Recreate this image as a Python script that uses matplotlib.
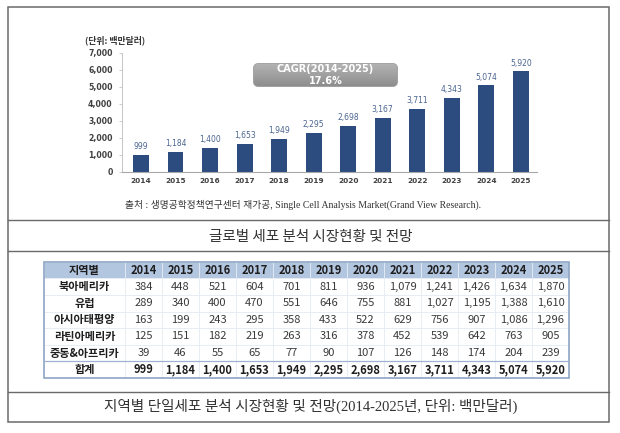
import matplotlib
matplotlib.use('Agg')
import matplotlib.pyplot as plt
import numpy as np
from matplotlib.patches import Rectangle, FancyBboxPatch
from matplotlib.lines import Line2D
from matplotlib.colors import LinearSegmentedColormap

plt.rcParams['font.family'] = ['Noto Sans CJK KR', 'DejaVu Sans']

# ---------------- data ----------------
years = ['2014', '2015', '2016', '2017', '2018', '2019',
         '2020', '2021', '2022', '2023', '2024', '2025']
totals = [999, 1184, 1400, 1653, 1949, 2295, 2698, 3167, 3711, 4343, 5074, 5920]
y_ticks = [0, 1000, 2000, 3000, 4000, 5000, 6000, 7000]

regions = ['북아메리카', '유럽', '아시아태평양', '라틴아메리카', '중동&아프리카']
north_america = [384, 448, 521, 604, 701, 811, 936, 1079, 1241, 1426, 1634, 1870]
europe = [289, 340, 400, 470, 551, 646, 755, 881, 1027, 1195, 1388, 1610]
asia_pacific = [163, 199, 243, 295, 358, 433, 522, 629, 756, 907, 1086, 1296]
latin_america = [125, 151, 182, 219, 263, 316, 378, 452, 539, 642, 763, 905]
middle_east_africa = [39, 46, 55, 65, 77, 90, 107, 126, 148, 174, 204, 239]
total_label = '합계'
region_header = '지역별'

unit_label = '(단위: 백만달러)'
cagr_label = 'CAGR(2014-2025)\n17.6%'
source_label = '출처 : 생명공학정책연구센터 재가공, Single Cell Analysis Market(Grand View Research).'
caption1 = '글로벌 세포 분석 시장현황 및 전망'
caption2 = '지역별 단일세포 분석 시장현황 및 전망(2014-2025년, 단위: 백만달러)'

# ---------------- figure ----------------
W, H = 620, 433
fig = plt.figure(figsize=(W / 100, H / 100), dpi=100)
fig.patch.set_facecolor('white')


def fx(x):
    return x / W


def fy(y):
    return 1 - y / H


# outer frame and separators
frame_col = '#6a6a6a'
fig.add_artist(Rectangle((fx(7.5), fy(422)), (609 - 7.5) / W, (422 - 7) / H,
                         transform=fig.transFigure, fill=False, ec=frame_col, lw=1.1))
for yy in (220, 251, 392):
    fig.add_artist(Line2D([fx(7.5), fx(609)], [fy(yy), fy(yy)],
                          transform=fig.transFigure, color=frame_col, lw=1.0))

# ---------------- bar chart ----------------
ax = fig.add_axes([fx(121.7), fy(171.7), (537 - 121.7) / W, (171.7 - 52.7) / H])
x = np.arange(len(years))
bars = ax.bar(x, totals, width=0.46, color='#2C4C80', zorder=2)
ax.set_xlim(-0.56, 11.47)
ax.set_ylim(0, 7000)
for s in ('top', 'right'):
    ax.spines[s].set_visible(False)
ax.spines['left'].set_color('#C4C4C4')
ax.spines['left'].set_linewidth(0.7)
ax.spines['bottom'].set_color('#A8A8A8')
ax.spines['bottom'].set_linewidth(0.8)
ax.set_yticks(y_ticks)
ax.set_yticklabels([f'{v:,}' for v in y_ticks], fontsize=5.6, fontweight='bold',
                   color='#404040', family='DejaVu Sans')
ax.tick_params(axis='y', length=2, width=0.6, color='#C4C4C4', pad=4.5)
ax.set_xticks(x)
ax.set_xticklabels(years, fontsize=5.3, fontweight='bold', color='#404040',
                   family='DejaVu Sans')
ax.tick_params(axis='x', length=0, pad=4.3)
ax.bar_label(bars, labels=[f'{v:,}' for v in totals], padding=2.5, fontsize=5.5,
             color='#4A6491', family='DejaVu Sans')

fig.text(fx(85), fy(40), unit_label, fontsize=6.4, color='#333333',
         ha='left', va='center', fontweight='bold')

# CAGR box
bax = fig.add_axes([fx(253), fy(87), 145 / W, 24 / H])
bax.set_xlim(0, 145)
bax.set_ylim(0, 24)
bax.axis('off')
box = FancyBboxPatch((0.5, 0.5), 144, 23, boxstyle='round,pad=0,rounding_size=5',
                     fc='none', ec='#9C9C9C', lw=0.6)
bax.add_patch(box)
cmap = LinearSegmentedColormap.from_list('g', ['#8C8C8C', '#B4B4B4'])
grad = np.linspace(0, 1, 50).reshape(-1, 1)
im = bax.imshow(grad, extent=(0, 145, 0, 24), origin='lower', cmap=cmap,
                aspect='auto', zorder=0)
im.set_clip_path(box)
bax.text(72.5, 12, cagr_label, ha='center', va='center', color='white',
         fontsize=7, fontweight='bold', family='DejaVu Sans', linespacing=1.15)

fig.text(fx(303), fy(205), source_label, fontsize=7.0, color='#333333',
         ha='center', va='center', family=['Liberation Serif', 'Noto Sans CJK KR'])

fig.text(fx(311), fy(237), caption1, fontsize=10.5, color='#333333',
         ha='center', va='center')

# ---------------- table ----------------
rows = [north_america, europe, asia_pacific, latin_america, middle_east_africa]
cell_text = [[name] + [f'{v:,}' for v in row] for name, row in zip(regions, rows)]
cell_text.append([total_label] + [f'{v:,}' for v in totals])
col_labels = [region_header] + years

tax = fig.add_axes([fx(44), fy(378), 525 / W, (378 - 261.7) / H])
tax.axis('off')
tbl = tax.table(cellText=cell_text, colLabels=col_labels,
                colWidths=[81 / 525] + [37 / 525] * 12,
                bbox=[0, 0, 1, 1], cellLoc='center')
tbl.auto_set_font_size(False)
tbl.set_fontsize(8.0)
nrows = len(cell_text) + 1
for (r, c), cell in tbl.get_celld().items():
    cell.set_edgecolor('#E6EBF2')
    cell.set_linewidth(0.6)
    t = cell.get_text()
    t.set_color('#3A3A3A')
    if r == 0:
        cell.set_facecolor('#B3C6E0')
        t.set_fontweight('bold')
        t.set_color('#1E1E1E')
    else:
        cell.set_facecolor('white')
    if c == 0 or r == nrows - 1:
        t.set_fontweight('bold')
        t.set_color('#1E1E1E')

tax.add_patch(Rectangle((0, 0), 1, 1, transform=tax.transAxes, fill=False,
                        ec='#8FA6C6', lw=1.2, clip_on=False, zorder=5))
tax.plot([0, 1], [1 / nrows, 1 / nrows], transform=tax.transAxes,
         color='#9FB3D0', lw=0.9, zorder=5, clip_on=False)

fig.text(fx(311), fy(406), caption2, fontsize=10.5, color='#333333',
         ha='center', va='center', family=['Liberation Serif', 'Noto Sans CJK KR'])

fig.savefig('out.png', dpi=100, facecolor='white')
